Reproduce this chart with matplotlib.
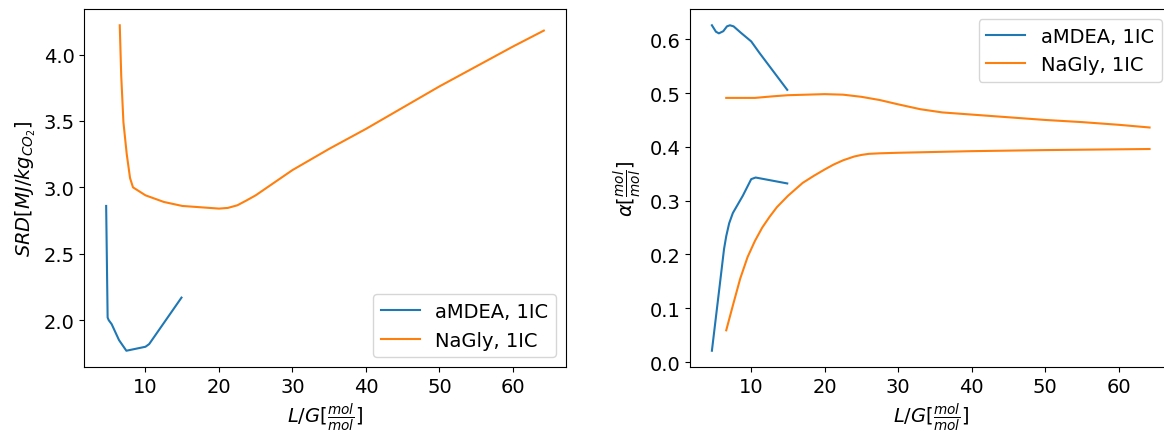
"""
plot.py
SRD and loading vs L/G for aMDEA and NaGly (1 IC).
"""

import matplotlib.pyplot as plt

plt.rcParams['font.size'] = 14

# SRD data
srd_amdea_lg = [4.65, 4.85, 5.0, 5.4, 6.4, 7.4, 10.0, 10.5, 14.9]
srd_amdea = [2.86, 2.02, 2.00, 1.97, 1.85, 1.77, 1.80, 1.82, 2.17]

srd_nagly_lg = [6.5, 6.7, 7.0, 7.45, 7.9, 8.3, 10, 12.5, 15, 17.5, 20, 21.2,
                22.5, 23.7, 25, 27.5, 30, 35, 40, 50, 60, 64.2]
srd_nagly = [4.22, 3.84, 3.49, 3.25, 3.07, 3.00, 2.94, 2.89, 2.86, 2.85, 2.84,
             2.845, 2.865, 2.9, 2.94, 3.035, 3.13, 3.29, 3.44, 3.76, 4.06, 4.18]

# loading data (rich and lean)
rich_amdea_lg = [4.65, 5.2, 5.6, 6.2, 6.7, 7.1, 7.6, 8.6, 10.0, 11.1, 14.9]
rich_amdea = [0.626, 0.614, 0.611, 0.615, 0.624, 0.626, 0.624, 0.612, 0.596,
              0.575, 0.506]

lean_amdea_lg = [4.65, 5.7, 6.3, 6.6, 7.0, 7.5, 8.85, 10.0, 10.6, 14.9]
lean_amdea = [0.021, 0.141, 0.210, 0.234, 0.258, 0.277, 0.309, 0.340, 0.343,
              0.332]

rich_nagly_lg = [6.6, 8, 10.5, 13, 15, 17.5, 20, 22.5, 25, 27.5, 30, 33, 36,
                 40, 45, 50, 55, 60, 64.2]
rich_nagly = [0.491, 0.491, 0.491, 0.494, 0.496, 0.497, 0.498, 0.497, 0.493,
              0.487, 0.479, 0.470, 0.464, 0.460, 0.455, 0.450, 0.446, 0.441,
              0.436]

lean_nagly_lg = [6.6, 7.5, 8.5, 9.5, 10.5, 11.5, 12.5, 13.5, 15, 17, 18.5, 20,
                 21.2, 22.5, 24, 25, 26, 27.5, 30, 40, 50, 64.2]
lean_nagly = [0.059, 0.105, 0.155, 0.195, 0.225, 0.250, 0.270, 0.288, 0.309,
              0.333, 0.346, 0.358, 0.367, 0.375, 0.382, 0.385, 0.387, 0.388,
              0.389, 0.392, 0.394, 0.396]

#%% figure
fig = plt.figure(figsize=(11.64, 4.35), dpi=100)
ax1 = fig.add_axes([0.0724, 0.154, 0.4136, 0.823])
ax2 = fig.add_axes([0.5928, 0.154, 0.4136, 0.823])

ax1.plot(srd_amdea_lg, srd_amdea, color='tab:blue', label='aMDEA, 1IC')
ax1.plot(srd_nagly_lg, srd_nagly, color='tab:orange', label='NaGly, 1IC')
ax1.set_xlabel(r'$L/G[\frac{mol}{mol}]$')
ax1.set_ylabel(r'$SRD[MJ/kg_{CO_2}]$')
ax1.legend(loc='lower right')

ax2.plot(rich_amdea_lg, rich_amdea, color='tab:blue', label='aMDEA, 1IC')
ax2.plot(rich_nagly_lg, rich_nagly, color='tab:orange', label='NaGly, 1IC')
ax2.plot(lean_amdea_lg, lean_amdea, color='tab:blue')
ax2.plot(lean_nagly_lg, lean_nagly, color='tab:orange')
ax2.set_xlabel(r'$L/G[\frac{mol}{mol}]$')
ax2.set_ylabel(r'$\alpha[\frac{mol}{mol}]$')
ax2.legend(loc='upper right')

fig.savefig('out.png')
